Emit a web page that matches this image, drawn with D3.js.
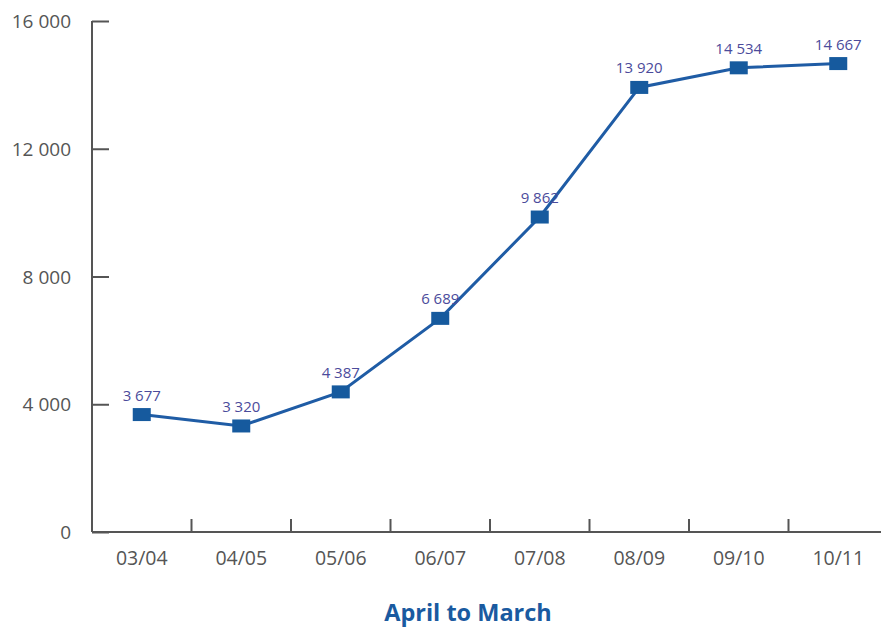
<!DOCTYPE html>
<html>
<head>
<meta charset="utf-8">
<script src="https://cdn.jsdelivr.net/npm/d3@7"></script>
<style>
  body { margin: 0; background: #fff; }
  svg { display: block; font-family: "Open Sans", sans-serif; }
</style>
</head>
<body>
<svg width="881" height="628"></svg>
<script>
"use strict"

var years = ["03/04", "04/05", "05/06", "06/07", "07/08", "08/09", "09/10", "10/11"]
var counts = [3677, 3320, 4387, 6689, 9862, 13920, 14534, 14667]
var yTicks = [0, 4000, 8000, 12000, 16000]
var xTitle = "April to March"

var fmt = function(v) {
    // space as thousands separator
    return d3.format(",")(v).replace(/,/g, " ")
}

var svg = d3.select("svg")
var x = d3.scaleBand().domain(years).range([92, 888])
var y = d3.scaleLinear().domain([0, 16000]).range([532, 21])

var axisColor = "#555"

/* y axis, ticks pointing inward */
var gy = svg.append("g").attr("transform", "translate(92,0)")
    .call(d3.axisRight(y).tickValues(yTicks).tickSize(17).tickFormat(""))
gy.select(".domain").remove()
gy.selectAll("line").attr("stroke", axisColor).attr("stroke-width", 2)
gy.append("line")
    .attr("x1", 0).attr("x2", 0).attr("y1", y(16000)).attr("y2", y(0))
    .attr("stroke", axisColor).attr("stroke-width", 2)
svg.append("g").selectAll("text").data(yTicks).join("text")
    .attr("x", 71).attr("y", function(d) { return y(d) + 7 })
    .attr("text-anchor", "end")
    .attr("font-size", 19).attr("fill", axisColor)
    .text(fmt)

/* x axis, band edges as ticks */
var gx = svg.append("g")
gx.append("line")
    .attr("x1", 92).attr("x2", 888).attr("y1", 532).attr("y2", 532)
    .attr("stroke", axisColor).attr("stroke-width", 2)
gx.selectAll(".tk").data(years.slice(1)).join("line")
    .attr("class", "tk")
    .attr("x1", function(d) { return x(d) }).attr("x2", function(d) { return x(d) })
    .attr("y1", 532).attr("y2", 519)
    .attr("stroke", axisColor).attr("stroke-width", 2)
gx.selectAll("text").data(years).join("text")
    .attr("x", function(d) { return x(d) + x.bandwidth() / 2 })
    .attr("y", 565)
    .attr("text-anchor", "middle")
    .attr("font-size", 19.5).attr("fill", axisColor)
    .text(function(d) { return d })

/* the series */
var cx = function(d, i) { return x(years[i]) + x.bandwidth() / 2 }
var line = d3.line().x(cx).y(function(d) { return y(d) })
svg.append("path").datum(counts)
    .attr("d", line)
    .attr("fill", "none").attr("stroke", "#1f5ca5").attr("stroke-width", 3)

svg.selectAll(".mk").data(counts).join("rect")
    .attr("class", "mk")
    .attr("x", function(d, i) { return cx(d, i) - 9 })
    .attr("y", function(d) { return y(d) - 6.5 })
    .attr("width", 18).attr("height", 13)
    .attr("fill", "#165a9e")

svg.selectAll(".lbl").data(counts).join("text")
    .attr("class", "lbl")
    .attr("x", cx)
    .attr("y", function(d) { return y(d) - 14 })
    .attr("text-anchor", "middle")
    .attr("font-size", 15).attr("fill", "#4b4b9b")
    .text(fmt)

svg.append("text")
    .attr("x", 468).attr("y", 621)
    .attr("text-anchor", "middle")
    .attr("font-size", 23.5).attr("font-weight", "bold")
    .attr("fill", "#1a5aa0")
    .text(xTitle)
</script>
</body>
</html>
